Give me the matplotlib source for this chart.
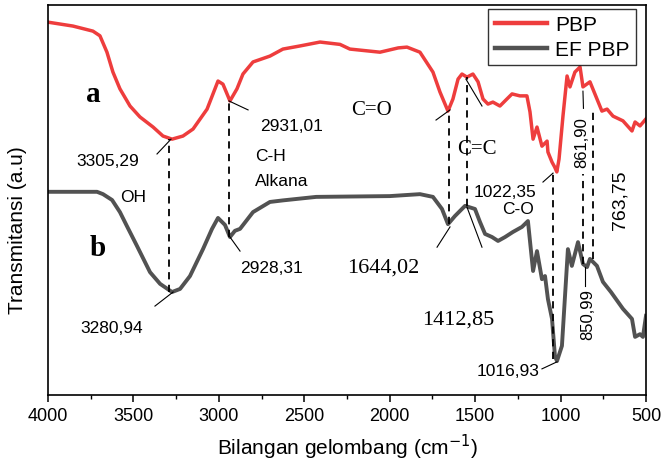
import matplotlib
matplotlib.use("Agg")
import matplotlib.pyplot as plt
from matplotlib.ticker import MultipleLocator

# PBP spectrum (curve a)
pbp_wn = [4000, 3854, 3737, 3696, 3655, 3620, 3579, 3520, 3462, 3385, 3327, 3274,
          3210, 3151, 3069, 3005, 2976, 2935, 2894, 2859, 2800, 2701, 2625, 2525,
          2408, 2291, 2233, 2057, 1950, 1899, 1823, 1747, 1706, 1659, 1630, 1600,
          1577, 1548, 1513, 1483, 1454, 1425, 1396, 1355, 1314, 1284, 1238, 1197,
          1179, 1161, 1138, 1109, 1079, 1074, 1050, 1035, 1022, 1009, 986, 962, 945,
          916, 886, 869, 828, 787, 758, 728, 693, 635, 582, 564, 535, 500]
pbp_t = [95.6, 94.6, 93.3, 92.1, 87.9, 82.8, 78.5, 74.1, 71.3, 68.7, 66.4, 65.6,
         66.4, 68.2, 73.3, 80.5, 79.7, 75.4, 78.5, 82.3, 85.4, 86.9, 88.7, 89.5,
         90.5, 89.9, 88.7, 87.9, 89.0, 89.2, 87.9, 82.8, 77.7, 72.8, 75.9, 81.0,
         82.3, 81.5, 82.3, 80.3, 75.9, 74.6, 75.1, 74.1, 75.9, 77.2, 76.7, 76.7,
         72.6, 65.6, 68.7, 63.8, 65.1, 62.3, 59.7, 58.5, 57.2, 60.5, 71.5, 81.8,
         79.0, 82.8, 84.1, 79.0, 80.3, 75.9, 72.8, 73.3, 71.5, 70.3, 67.7, 70.0,
         69.0, 70.8]

# EF PBP spectrum (curve b)
ef_wn = [4000, 3713, 3678, 3625, 3579, 3538, 3479, 3403, 3344, 3274, 3227, 3169,
         3093, 3040, 3005, 2964, 2935, 2906, 2876, 2800, 2701, 2625, 2430, 2000,
         1823, 1747, 1694, 1659, 1618, 1559, 1501, 1472, 1442, 1401, 1366, 1325,
         1279, 1226, 1191, 1161, 1138, 1109, 1091, 1074, 1050, 1033, 1021, 992,
         974, 957, 934, 898, 869, 845, 828, 787, 752, 705, 635, 582, 564, 535,
         518, 500]
ef_t = [52.1, 52.1, 51.5, 50.0, 46.9, 43.3, 38.2, 31.5, 28.5, 26.4, 27.2, 30.5,
        37.4, 42.6, 45.4, 43.6, 40.5, 42.1, 42.6, 46.9, 49.5, 49.9, 50.8, 51.0,
        51.5, 50.8, 47.7, 43.8, 45.9, 48.5, 47.7, 44.4, 41.3, 40.5, 39.5, 40.5,
        41.8, 43.1, 44.6, 31.8, 36.9, 29.7, 30.5, 24.6, 19.5, 10.0, 8.7, 12.6,
        25.4, 37.4, 33.1, 39.2, 33.6, 32.8, 34.9, 33.1, 29.0, 26.4, 22.1, 19.5,
        14.9, 15.6, 14.9, 20.3]

# dashed guide lines linking the two spectra
guide_wn = [3290, 2938, 1652, 1550, 1045, 870, 810]
guide_top = [65.6, 75.4, 72.8, 81.5, 56.7, 56.7, 72.6]
guide_bot = [26.4, 40.5, 43.8, 48.5, 9.2, 33.6, 34.9]

RED = "#ee3d3d"
GRAY = "#525252"
SANS = "Liberation Sans"
SERIF = "Liberation Serif"

plt.rcParams["font.family"] = SANS

fig = plt.figure(figsize=(6.64, 4.64), dpi=100)
ax = fig.add_axes([48 / 664, 68 / 464, 598 / 664, 390 / 464])

ax.plot(pbp_wn, pbp_t, color=RED, lw=2.5, label="PBP", solid_joinstyle="round")
ax.plot(ef_wn, ef_t, color=GRAY, lw=2.8, label="EF PBP", solid_joinstyle="round")

ax.vlines(guide_wn, guide_bot, guide_top, colors="black", linestyles=(0, (4, 3)), lw=1.3)

# thin leader lines
leaders = [
    ((3362, 61.8), (3280, 65.6)),
    ((2941, 75.4), (2829, 73.1)),
    ((3374, 22.8), (3268, 26.4)),
    ((2935, 40.5), (2876, 36.9)),
    ((1729, 70.5), (1647, 73.1)),
    ((1723, 37.9), (1647, 43.1)),
    ((1554, 81.0), (1460, 74.1)),
    ((1548, 48.2), (1460, 37.9)),
    ((1103, 54.6), (1044, 56.9)),
    ((1109, 6.7), (1021, 8.5)),
    ((869, 77.9), (866, 73.5)),
    ((857, 32.8), (857, 27.9)),
]
for (x0, y0), (x1, y1) in leaders:
    ax.plot([x0, x1], [y0, y1], color="black", lw=0.8)

ax.text(3737, 77.2, "a", family=SERIF, weight="bold", fontsize=21, ha="center", va="center")
ax.text(3707, 37.9, "b", family=SERIF, weight="bold", fontsize=21, ha="center", va="center")

sans_labels = [
    (3649, 60.0, "3305,29"),
    (2572, 69.2, "2931,01"),
    (3503, 50.8, "OH"),
    (3625, 17.4, "3280,94"),
    (2689, 32.8, "2928,31"),
    (1325, 52.3, "1022,35"),
    (1249, 47.7, "C-O"),
    (1308, 6.2, "1016,93"),
]
for x, y, s in sans_labels:
    ax.text(x, y, s, fontsize=12.5, ha="center", va="center")
ax.text(2789, 61.3, "C-H", fontsize=12.5, ha="left", va="center")
ax.text(2789, 54.9, "Alkana", fontsize=12.5, ha="left", va="center")

ax.text(875, 65.1, "861,90", fontsize=12, rotation=90, ha="center", va="center")
ax.text(840, 20.8, "850,99", fontsize=12, rotation=90, ha="center", va="center")
ax.text(652, 50.3, "763,75", fontsize=14, rotation=90, ha="center", va="center")

ax.text(2104, 73.3, "C=O", family=SERIF, fontsize=15, ha="center", va="center")
ax.text(1489, 63.1, "C=C", family=SERIF, fontsize=15, ha="center", va="center")
ax.text(2039, 32.8, "1644,02", family=SERIF, fontsize=16, ha="center", va="center")
ax.text(1600, 19.5, "1412,85", family=SERIF, fontsize=16, ha="center", va="center")

ax.set_xlim(4000, 500)
ax.set_ylim(0, 100)
ax.xaxis.set_major_locator(MultipleLocator(500))
ax.xaxis.set_minor_locator(MultipleLocator(250))
ax.tick_params(axis="x", which="major", direction="out", length=5, width=1.1,
               labelsize=13, pad=4)
ax.tick_params(axis="x", which="minor", direction="out", length=3, width=1.0)
ax.set_yticks([])
for sp in ax.spines.values():
    sp.set_linewidth(1.2)

ax.set_xlabel("Bilangan gelombang (cm$^{-1}$)", fontsize=15, labelpad=5)
fig.text(18 / 664, 1 - 230 / 464, "Transmitansi (a.u)", fontsize=15, rotation=90,
         ha="center", va="center")

leg = ax.legend(loc="upper right", bbox_to_anchor=(0.983, 0.99), borderaxespad=0,
                fontsize=15, frameon=True, fancybox=False, handlelength=2.5,
                handletextpad=0.4, borderpad=0.3, labelspacing=0.28)
leg.get_frame().set_edgecolor("black")
leg.get_frame().set_linewidth(1.0)
for line in leg.get_lines():
    line.set_linewidth(3.2)

fig.savefig("out.png", dpi=100)
